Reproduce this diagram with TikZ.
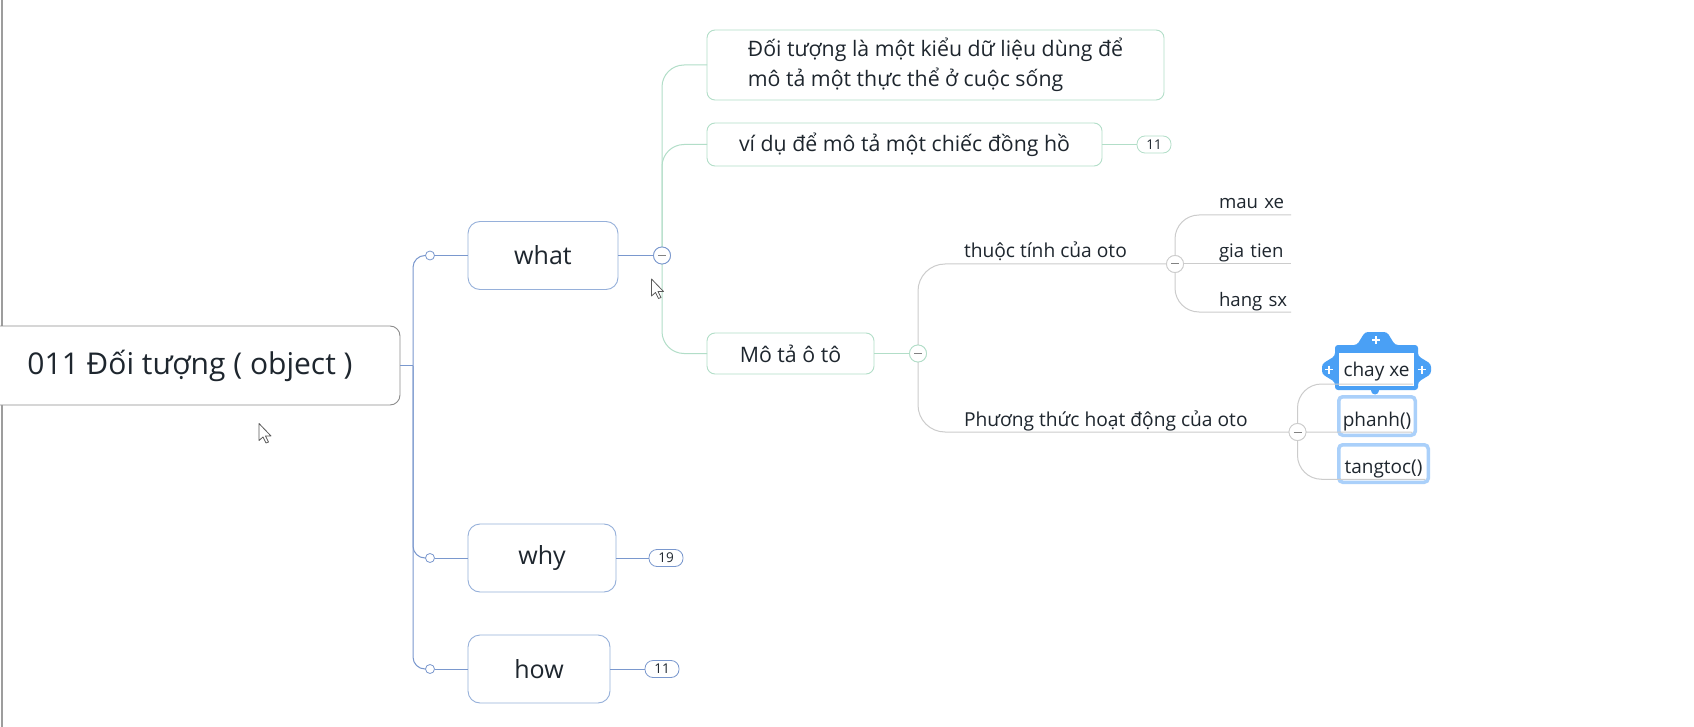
\documentclass[tikz,border=0pt]{standalone}
\usepackage{fontspec}
\setmainfont{Open Sans}
\usepackage{tikz}
\usetikzlibrary{positioning}
\usetikzlibrary{backgrounds}
\definecolor{trunkblue}{RGB}{122,152,206}
\definecolor{boxblue}{RGB}{150,176,218}
\definecolor{leafgreen}{RGB}{178,222,200}
\definecolor{linegray}{RGB}{204,204,204}
\definecolor{rootgray}{RGB}{140,140,140}
\definecolor{inkdark}{RGB}{30,38,46}
\definecolor{minusgray}{RGB}{130,130,130}
\definecolor{selblue}{RGB}{74,160,245}
\definecolor{sellight}{RGB}{170,208,250}
\definecolor{cursorgray}{RGB}{90,90,90}

\begin{document}
\begin{tikzpicture}[x=1pt,y=-1pt,every node/.style={inner sep=0,outer sep=0,text=inkdark},
    rootbox/.style={draw=rootgray,fill=white,rounded corners=10pt,line width=0.9pt,minimum width=420pt,minimum height=79pt,font=\fontsize{30}{36}\selectfont},
    topbox/.style={draw=boxblue,fill=white,rounded corners=12pt,line width=0.9pt,minimum height=68pt,font=\fontsize{25}{30}\selectfont},
    subbox/.style={draw=leafgreen,fill=white,rounded corners=8pt,line width=0.9pt,font=\fontsize{21.3}{30}\selectfont},
    uline/.style={anchor=south west,text depth=6pt,font=\fontsize{19.2}{22}\selectfont},
    leaf/.style={uline,text width=72pt,align=left,font=\fontsize{18.6}{22}\selectfont},
    selbox/.style={draw=sellight,fill=white,rounded corners=4pt,line width=3.5pt,text height=21pt,text depth=1pt,font=\fontsize{19}{22}\selectfont},
    knob/.style={circle,draw=trunkblue,fill=white,line width=0.8pt,minimum size=9pt},
    fold/.style={circle,draw=#1,fill=white,line width=0.8pt,minimum size=17pt,
        path picture={\draw[minusgray,line width=1pt] ([xshift=-4pt]path picture bounding box.center) -- ([xshift=4pt]path picture bounding box.center);}},
    badge/.style={draw=#1,fill=white,rounded corners=8pt,line width=0.8pt,minimum width=34pt,minimum height=17pt,font=\fontsize{13.5}{15}\selectfont},
    trunk/.style={draw=trunkblue,line width=1pt},
    twig/.style={draw=leafgreen,line width=1pt},
    thread/.style={draw=linegray,line width=1pt}]

    \useasboundingbox (0,0) rectangle (1694,727);
    \begin{scope}[on background layer]
        \fill[white] (0,0) rectangle (1694,727);
    \end{scope}
    \draw[rootgray!85,line width=2pt] (2,0) -- (2,727);

    % central topic and the three questions
    \node[rootbox] (T0) at (190,365.5) {011 Đối tượng ( object )};
    \node[topbox,minimum width=150pt] (T1) at (543,255.5) {what};
    \node[topbox,minimum width=148pt] (T2) at (542,558) {why};
    \node[topbox,minimum width=142pt] (T3) at (539,669) {how};
    \node[knob] (K1) [left=33.5pt of T1] {};
    \node[knob] (K2) [left=33.5pt of T2] {};
    \node[knob] (K3) [left=33.5pt of T3] {};
    \coordinate (J) at ([xshift=13pt]T0.east);
    \node[fold=trunkblue] (C1) [right=35.5pt of T1] {};
    \node[badge=trunkblue] (B2) [right=33pt of T2] {19};
    \node[badge=trunkblue] (B3) [right=35pt of T3] {11};

    % what
    \node[subbox,align=left,minimum width=457pt,minimum height=70pt] (D1) at (935.5,65)
        {Đối tượng là một kiểu dữ liệu dùng để\\mô tả một thực thể ở cuộc sống};
    \node[subbox,minimum width=395pt,minimum height=43pt] (D2) at (904.5,144.5) {ví dụ để mô tả một chiếc đồng hồ};
    \node[subbox,minimum width=167pt,minimum height=41pt] (D3) at (790.5,353.5) {Mô tả ô tô};
    \node[badge=leafgreen] (B1) [right=35pt of D2] {11};
    \node[fold=leafgreen] (C2) [right=35.5pt of D3] {};

    % Mô tả ô tô
    \node[uline] (E1) at (964,263.6) {thuộc tính của oto};
    \node[uline] (E2) at (964,432) {Phương thức hoạt động của oto};
    \node[fold=linegray] (C3) at (1175,264) {};
    \node[fold=linegray] (C4) at (1297.5,432) {};
    \node[leaf] (F1) at (1219,215) {mau xe};
    \node[leaf] (F2) at (1219,264) {gia tien};
    \node[leaf] (F3) at (1219,312) {hang sx};
    \node[fill=white,minimum width=75pt,minimum height=33pt,text height=15pt,text depth=1pt,font=\fontsize{19}{22}\selectfont] (G1) at (1376.5,369.5) {chay xe};
    \node[selbox,minimum width=76.5pt,minimum height=38.5pt] (G2) at (1377,416) {phanh()};
    \node[selbox,minimum width=89.5pt,minimum height=37.5pt] (G3) at (1383.5,463.5) {tangtoc()};

    % selection handles round chay xe
    \begin{scope}[on background layer,shift={(G1.center)}]
        \fill[selblue,rounded corners=3pt] (-41.5,-24.5) -- (-19.5,-24.5) -- (-11.5,-37.5) -- (10.5,-37.5) -- (18.5,-24.5)
            -- (41.5,-24.5) -- (41.5,-13.5) -- (54.5,-5.5) -- (54.5,4.5) -- (41.5,12.5) -- (41.5,20.5)
            -- (-41.5,20.5) -- (-41.5,12.5) -- (-54.5,4.5) -- (-54.5,-5.5) -- (-41.5,-13.5) -- cycle;
        \fill[selblue] (-1.5,21) circle (4);
        \draw[white,line width=1.8pt] (-4.5,-29.5) -- (3.5,-29.5) (-0.5,-33.5) -- (-0.5,-25.5)
            (-51.5,0) -- (-43.5,0) (-47.5,-4) -- (-47.5,4)
            (41.5,0) -- (49.5,0) (45.5,-4) -- (45.5,4);
    \end{scope}

    % connectors
    \path[trunk] (T0.east) -- (J);
    \path[trunk,rounded corners=12pt] (J) |- (K1.west);
    \path[trunk,rounded corners=12pt] (J) |- (K2.west);
    \path[trunk,rounded corners=12pt] (J) |- (K3.west);
    \path[trunk] (K1.east) -- (T1.west) (K2.east) -- (T2.west) (K3.east) -- (T3.west)
        (T1.east) -- (C1.west) (T2.east) -- (B2.west) (T3.east) -- (B3.west);
    \path[twig,rounded corners=22pt] (C1.north) |- (D1.west);
    \path[twig,rounded corners=22pt] (C1.north) |- (D2.west);
    \path[twig,rounded corners=22pt] (C1.south) |- (D3.west);
    \path[twig] (D2.east) -- (B1.west) (D3.east) -- (C2.west);
    \path[thread,rounded corners=27pt] (C2.north) |- (C3.west);
    \path[thread,rounded corners=27pt] (C2.south) |- (C4.west);
    \path[thread,rounded corners=24pt] (C3.north) |- (F1.south east);
    \path[thread] (C3.east) -- (F2.south east);
    \path[thread,rounded corners=24pt] (C3.south) |- (F3.south east);
    \path[thread,rounded corners=24pt] (C4.north) |- ([shift={(-1,-2)}]G1.south east);
    \path[thread] (C4.east) -- ([shift={(-3,-3)}]G2.south east);
    \path[thread,rounded corners=24pt] (C4.south) |- ([shift={(-3,-3)}]G3.south east);
    \node[fold=trunkblue] at (C1) {};
    \node[fold=leafgreen] at (C2) {};
    \node[fold=linegray] at (C3) {};
    \node[fold=linegray] at (C4) {};

    % mouse pointers
    \draw[cursorgray,fill=white,line join=round,line width=0.8pt,shift={(651.5,279)}]
        (0,0) -- (0,17) -- (4,13.5) -- (7,19.5) -- (9.5,18.5) -- (6.5,12.5) -- (12,12.5) -- cycle;
    \draw[cursorgray,fill=white,line join=round,line width=0.8pt,shift={(259,423.5)}]
        (0,0) -- (0,17) -- (4,13.5) -- (7,19.5) -- (9.5,18.5) -- (6.5,12.5) -- (12,12.5) -- cycle;
\end{tikzpicture}
\end{document}
